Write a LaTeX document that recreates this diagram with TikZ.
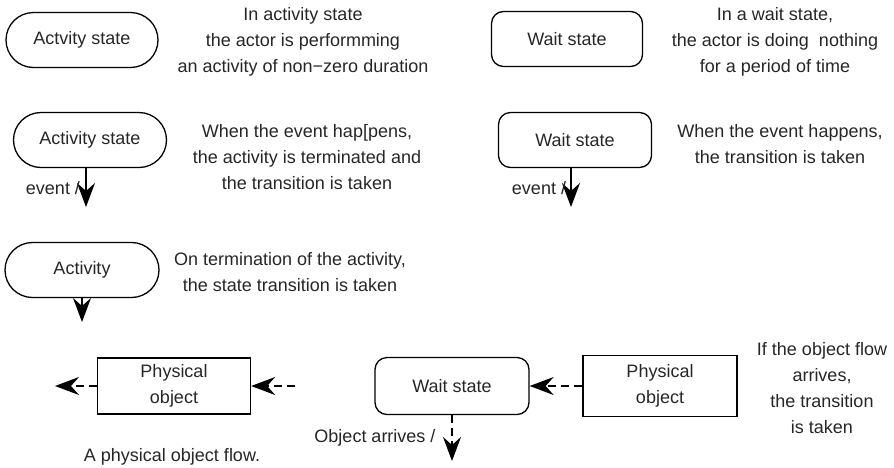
\documentclass[tikz,border=0pt]{standalone}
\usepackage{fontspec}
\setmainfont{Liberation Sans}
\usetikzlibrary{arrows.meta}
\begin{document}
\begin{tikzpicture}[x=1pt,y=-1pt,
  every node/.style={font=\fontsize{18}{26}\selectfont, text=black!85},
  stadium/.style={draw, line width=1.3pt, minimum height=55pt, rounded corners=27.5pt, inner sep=0},
  waitbox/.style={draw, line width=1.3pt, minimum height=55pt, rounded corners=12pt, inner sep=0},
  objbox/.style={draw, line width=1.3pt, align=center, inner sep=0},
  note/.style={align=center, inner sep=0},
  trans/.style={line width=1.3pt, -{Stealth[length=24pt,width=18pt,inset=8pt]}},
  flow/.style={trans, dash pattern=on 8pt off 5pt}
]
\useasboundingbox (0,0) rectangle (894,467);

% Row 1
\node[stadium, minimum width=152pt] (as1) at (82,40) {Actvity state};
\node[note] (n1) at (303,42) {In activity state\\the actor is performming\\an activity of non\textminus zero duration};
\node[waitbox, minimum width=151pt] (ws1) at (567,39) {Wait state};
\node[note] (n2) at (775,42) {In a wait state,\\the actor is doing\ \ nothing\\for a period of time};

% Row 2
\node[stadium, minimum width=153pt] (as2) at (90,140) {Activity state};
\coordinate (e1) at (86,207);
\draw[trans] (as2.south -| e1) -- (e1);
\node[inner sep=0] (l1) at (53,188) {event /};
\node[note] (n3) at (307,157) {When the event hap[pens,\\the activity is terminated and\\the transition is taken};

\node[waitbox, minimum width=153pt] (ws2) at (575,140) {Wait state};
\coordinate (e2) at (571,207);
\draw[trans] (ws2.south -| e2) -- (e2);
\node[inner sep=0] (l2) at (539,188) {event /};
\node[note] (n4) at (780,144) {When the event happens,\\the transition is taken};

% Row 3
\node[stadium, minimum width=154pt] (act) at (82,270) {Activity};
\coordinate (e3) at (82,322);
\draw[trans] (act.south) -- (e3);
\node[note] (n5) at (290,272) {On termination of the activity,\\the state transition is taken};

% Row 4
\node[objbox, minimum width=153pt, minimum height=56pt] (po1) at (174,386) {Physical\\object};
\coordinate (f1) at (55,386);
\coordinate (f2) at (295,386);
\draw[flow] (po1.west) -- (f1);
\draw[flow] (f2) -- (po1.east);
\node[note] (n6) at (172,457) {A physical object flow.};

\node[waitbox, minimum width=154pt, minimum height=57pt] (ws3) at (452,386) {Wait state};
\node[objbox, minimum width=154pt, minimum height=61pt] (po2) at (660,386) {Physical\\object};
\draw[flow] (po2.west) -- (ws3.east);
\coordinate (f3) at (452,461);
\draw[flow] (ws3.south) -- (f3);
\node[inner sep=0] (l3) at (375,438) {Object arrives /};
\node[note] (n7) at (822,388) {If the object flow\\arrives,\\the transition\\is taken};
\end{tikzpicture}
\end{document}
